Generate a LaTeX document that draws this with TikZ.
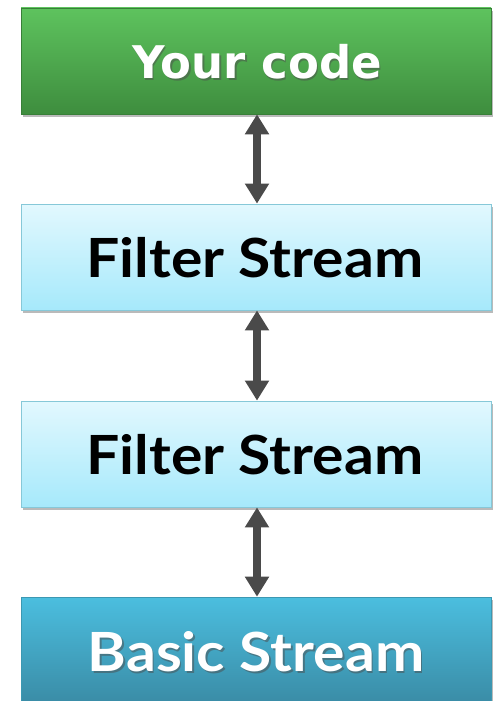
\documentclass[tikz,border=0pt]{standalone}
\usepackage{fontspec}
\setmainfont{Lato}
\newfontfamily\vfont{DejaVu Sans}
\usetikzlibrary{arrows.meta,shadows,fadings}
\definecolor{gtop}{HTML}{5EC35E}
\definecolor{gbot}{HTML}{3E8D3E}
\definecolor{ftop}{HTML}{E2F8FE}
\definecolor{fbot}{HTML}{A6E9FB}
\definecolor{fbord}{HTML}{86C8D8}
\definecolor{btop}{HTML}{4BBEDF}
\definecolor{bbot}{HTML}{3A8CA6}
\definecolor{arr}{HTML}{4A4A4A}
\newcommand{\wide}[1]{\scalebox{1.09}[1]{#1}}
\tikzset{
  box/.style={minimum width=470pt, minimum height=106pt, inner sep=0pt,
    drop shadow={shadow xshift=2pt, shadow yshift=-3pt, opacity=0.45, fill=black!60}},
  greenbox/.style={box, top color=gtop, bottom color=gbot, draw=gbot!90!black, line width=0.6pt},
  filterbox/.style={box, top color=ftop, bottom color=fbot, draw=fbord, line width=0.8pt},
  basicbox/.style={box, top color=btop, bottom color=bbot, draw=btop!80!black, line width=0.6pt},
  link/.style={draw=arr, line width=7.5pt, {Triangle[length=20pt,width=23pt]}-{Triangle[length=20pt,width=23pt]}},
  ftext/.style={font=\fontsize{54}{60}\selectfont\bfseries, text=black},
  wtext/.style={font=\fontsize{54}{60}\selectfont\bfseries, text=white},
}
\begin{document}
\begin{tikzpicture}[x=1pt,y=-1pt]
\useasboundingbox (0,0) rectangle (495,701);
\node[greenbox] (yc) at (256,61) {};
\node[font=\vfont\fontsize{45}{50}\selectfont\bfseries, text=black!70, opacity=0.5] at (258.5,63.5) {Your code};
\node[font=\vfont\fontsize{45}{50}\selectfont\bfseries, text=white] (yct) at (257,62) {Your code};
\node[filterbox] (f1) at (256,257) {};
\node[ftext] (f1t) at (255,258) {\wide{Filter Stream}};
\node[filterbox] (f2) at (256,454) {};
\node[ftext] (f2t) at (255,455) {\wide{Filter Stream}};
\node[basicbox] (bs) at (256,650) {};
\node[wtext, text=black!70, opacity=0.5] at (257.5,653.5) {\wide{Basic Stream}};
\node[wtext] (bst) at (256,652) {\wide{Basic Stream}};
\draw[link] (yc.south -| 257,0) -- (f1.north -| 257,0);
\draw[link] (f1.south -| 257,0) -- (f2.north -| 257,0);
\draw[link] (f2.south -| 257,0) -- (bs.north -| 257,0);
\end{tikzpicture}
\end{document}
